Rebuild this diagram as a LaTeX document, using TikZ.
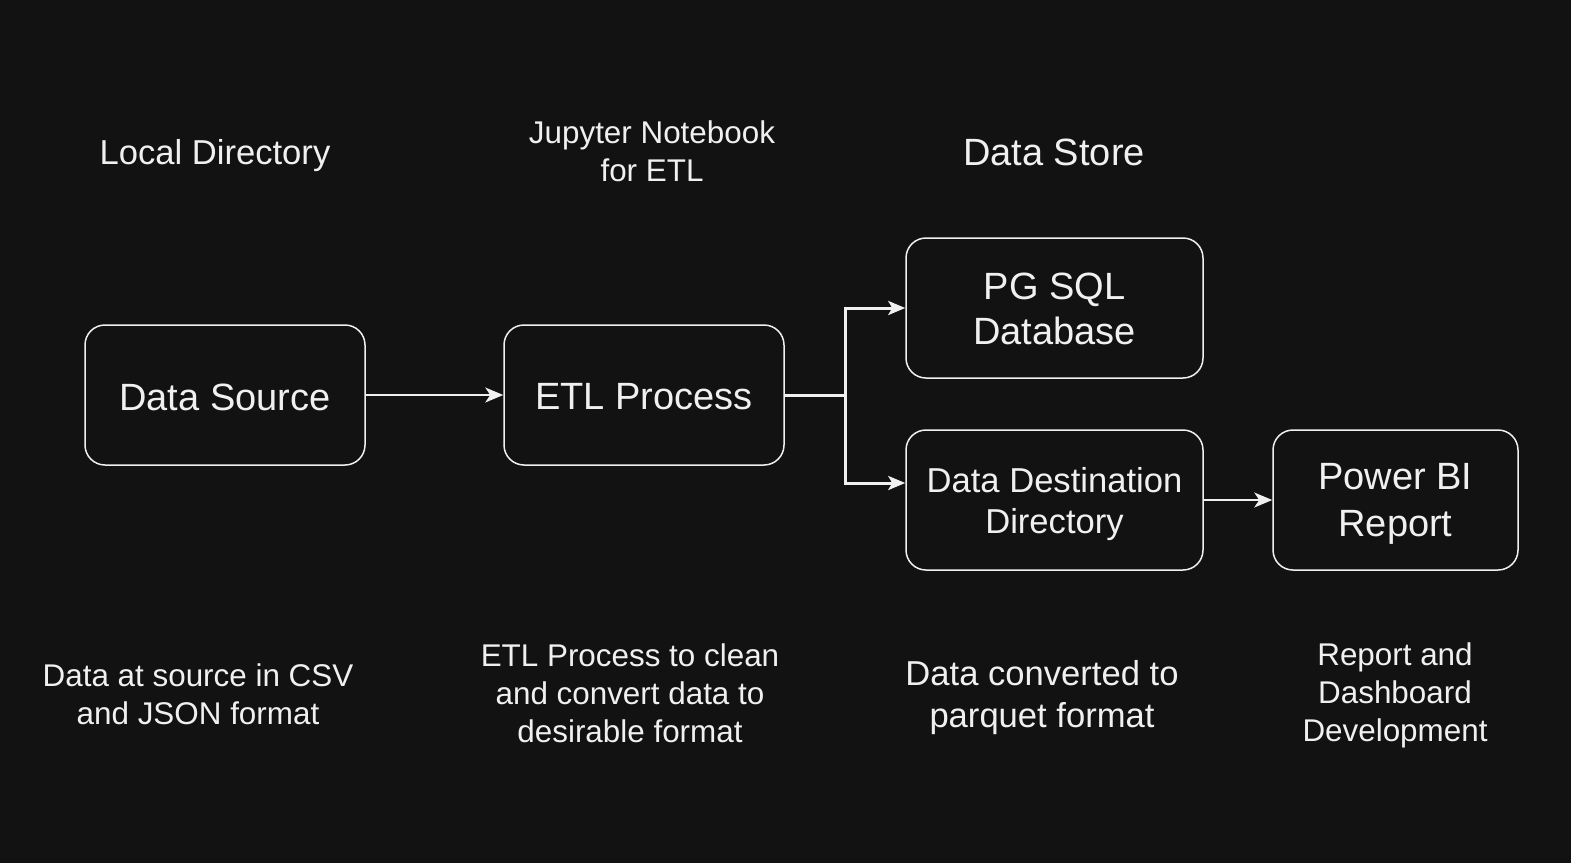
\documentclass[tikz,border=0pt]{standalone}
\usepackage{fontspec}
\setmainfont{Liberation Sans}
\usetikzlibrary{arrows.meta}
\definecolor{bg}{HTML}{121212}
\definecolor{fg}{HTML}{F0F0F0}
\tikzset{
  box/.style={draw=fg, line width=1.5pt, rounded corners=20pt, text=fg, align=center, inner sep=0pt},
  lbl/.style={text=fg, align=center, inner sep=0pt},
  fA/.style={font=\fontsize{31.4}{38}\selectfont},
  fB/.style={font=\fontsize{34.6}{41.5}\selectfont},
  fC/.style={font=\fontsize{38}{45.5}\selectfont},
  thin/.style={draw=fg, line width=1.5pt, -{Stealth[length=18pt,width=15pt,inset=5pt]}},
  thick/.style={draw=fg, line width=3pt, -{Stealth[length=17pt,width=14pt,inset=4pt]}},
}
\begin{document}
\begin{tikzpicture}[x=1pt,y=-1pt]
\fill[bg] (0,0) rectangle (1571,863);
\useasboundingbox (0,0) rectangle (1571,863);

\node[box, minimum width=280pt, minimum height=140pt] (src) at (225,395) {};
\node[box, minimum width=280pt, minimum height=140pt] (etl) at (644,395) {};
\node[box, minimum width=297pt, minimum height=140pt] (pg) at (1054.5,308) {};
\node[box, minimum width=297pt, minimum height=140pt] (dd) at (1054.5,500) {};
\node[box, minimum width=245pt, minimum height=140pt] (pbi) at (1395.5,500) {};

\node[lbl, fC] (srct) at (225,397) {Data Source};
\node[lbl, fC] (etlt) at (644,397) {ETL Process};
\node[lbl, fC] (pgt) at (1054.5,309) {PG SQL\\Database};
\node[lbl, fB] (ddt) at (1054.5,504) {Data Destination\\Directory};
\node[lbl, fC, font=\fontsize{38}{46.5}\selectfont] (pbit) at (1395.5,504) {Power BI\\Report};

\node[lbl, fB] (t1) at (215,156) {Local Directory};
\node[lbl, fA] (t2) at (652,151) {Jupyter Notebook\\for ETL};
\node[lbl, fC] (t3) at (1054,152) {Data Store};

\node[lbl, fA] (b1) at (198,694) {Data at source in CSV\\and JSON format};
\node[lbl, fA] (b2) at (630,693) {ETL Process to clean\\and convert data to\\desirable format};
\node[lbl, fB, font=\fontsize{34.6}{42}\selectfont] (b3) at (1042,698) {Data converted to\\parquet format};
\node[lbl, fA] (b4) at (1395,695) {Report and\\Dashboard\\Development};

\draw[thin] (src.east) -- (etl.west);
\coordinate (j) at ([xshift=61pt]etl.east);
\draw[thick] (etl.east) -- (j) |- (pg.west);
\draw[thick] (etl.east) -- (j) |- ([yshift=17pt]dd.west);
\draw[thin] (dd.east) -- (pbi.west);
\end{tikzpicture}
\end{document}
